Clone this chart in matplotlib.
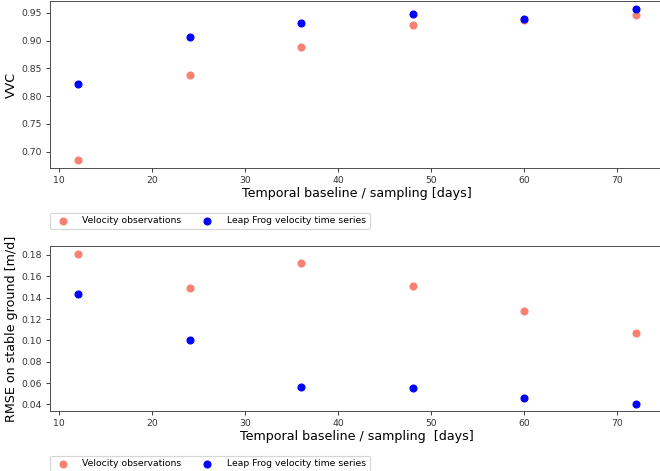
import numpy as np
import matplotlib
matplotlib.use('Agg')
import matplotlib.pyplot as plt
from matplotlib.ticker import MultipleLocator, FormatStrFormatter

baseline = [12, 24, 36, 48, 60, 72]
vvc_obs = [0.685, 0.8375, 0.889, 0.9286, 0.9375, 0.9457]
vvc_lf = [0.822, 0.906, 0.931, 0.9488, 0.939, 0.957]
rmse_obs = [0.1812, 0.1488, 0.1726, 0.1509, 0.1278, 0.1071]
rmse_lf = [0.1435, 0.1006, 0.0567, 0.0552, 0.0456, 0.0409]

labels = ['Velocity observations', 'Leap Frog velocity time series']
xlabels = ['Temporal baseline / sampling [days]', 'Temporal baseline / sampling  [days]']
ylabels = ['VVC', 'RMSE on stable ground [m/d]']

DPI = 83


def panel(fig, rect, obs, lf, xlabel, ylabel, step):
    ax = fig.add_axes(rect)
    ax.scatter(baseline, obs, s=36, color='salmon', label=labels[0], zorder=3)
    ax.scatter(baseline, lf, s=36, color='blue', label=labels[1], zorder=3)
    ax.set_xlabel(xlabel, fontsize=11, labelpad=2)
    ax.set_ylabel(ylabel, fontsize=11, labelpad=3)
    ax.yaxis.set_major_locator(MultipleLocator(step))
    ax.yaxis.set_major_formatter(FormatStrFormatter('%.2f'))
    ax.tick_params(labelsize=8, colors='#333333')
    for sp in ax.spines.values():
        sp.set_color('#444444')
    ax.legend(loc='upper left', bbox_to_anchor=(0, -0.27), ncol=2,
              fontsize=8, borderaxespad=0, columnspacing=1.8, handletextpad=1.1)
    return ax


def main():
    fig = plt.figure(figsize=(660 / DPI, 471 / DPI), dpi=DPI)
    panel(fig, [0.0758, 0.644, 0.930, 0.353], vvc_obs, vvc_lf, xlabels[0], ylabels[0], 0.05)
    panel(fig, [0.0758, 0.1274, 0.930, 0.350], rmse_obs, rmse_lf, xlabels[1], ylabels[1], 0.02)
    fig.savefig('out.png', dpi=DPI)


if __name__ == '__main__':
    main()
